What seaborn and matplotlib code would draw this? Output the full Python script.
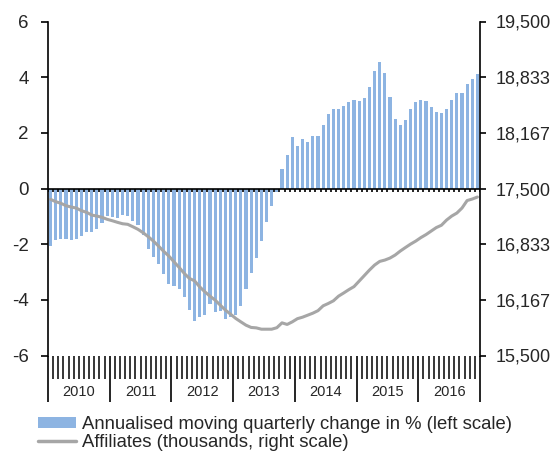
import pandas as pd
import matplotlib
matplotlib.use('Agg')
import matplotlib.pyplot as plt
from matplotlib.patches import Patch
from matplotlib.lines import Line2D
import seaborn as sns

# Data (monthly, 2010-2016)
years = ['2010', '2011', '2012', '2013', '2014', '2015', '2016']
change_pct = [
    -2.07, -1.85, -1.80, -1.80, -1.85, -1.80, -1.69, -1.55, -1.55, -1.45, -1.24, -0.98,
    -1.02, -1.05, -0.95, -1.00, -1.15, -1.30, -1.68, -2.18, -2.47, -2.72, -3.06, -3.43,
    -3.50, -3.60, -3.90, -4.35, -4.76, -4.63, -4.55, -4.15, -4.45, -4.40, -4.70, -4.63,
    -4.55, -4.22, -3.60, -3.02, -2.48, -1.88, -1.22, -0.64, -0.12, 0.71, 1.20, 1.84,
    1.53, 1.78, 1.68, 1.87, 1.87, 2.27, 2.66, 2.85, 2.85, 2.95, 3.10, 3.19,
    3.14, 3.24, 3.63, 4.22, 4.56, 4.16, 3.29, 2.51, 2.27, 2.46, 2.85, 3.10,
    3.19, 3.14, 2.94, 2.75, 2.70, 2.85, 3.19, 3.44, 3.44, 3.74, 3.93, 4.12,
]
affiliates = [
    17370, 17342, 17323, 17294, 17278, 17266, 17234, 17215, 17182, 17170, 17155, 17131,
    17114, 17095, 17078, 17071, 17042, 17011, 16970, 16922, 16870, 16810, 16747, 16691,
    16622, 16555, 16483, 16423, 16394, 16322, 16263, 16211, 16163, 16103, 16043, 15995,
    15944, 15903, 15863, 15836, 15831, 15815, 15815, 15815, 15833, 15891, 15872, 15903,
    15941, 15959, 15983, 16007, 16037, 16095, 16123, 16155, 16211, 16249, 16289, 16325,
    16391, 16457, 16523, 16583, 16627, 16643, 16667, 16703, 16751, 16793, 16834, 16870,
    16912, 16948, 16990, 17032, 17060, 17122, 17170, 17206, 17266, 17356, 17374, 17398,
]
left_ticks = [-6, -4, -2, 0, 2, 4, 6]
right_ticks = [15500, 16167, 16833, 17500, 18167, 18833, 19500]
right_labels = ['15,500', '16,167', '16,833', '17,500', '18,167', '18,833', '19,500']
bar_label = 'Annualised moving quarterly change in % (left scale)'
line_label = 'Affiliates (thousands, right scale)'

bar_color = '#8DB4E2'
line_color = '#A6A6A6'

df = pd.DataFrame({'month': range(len(change_pct)),
                   'change': change_pct,
                   'affiliates': affiliates})
n = len(df)

sns.set_theme(style='white')
plt.rcParams['font.family'] = ['Liberation Sans', 'DejaVu Sans']

fig, ax = plt.subplots(figsize=(5.55, 4.54), dpi=100)
fig.subplots_adjust(left=48 / 555, right=480 / 555, top=1 - 21.5 / 454, bottom=1 - 355.5 / 454)

# Bars on left scale
sns.barplot(data=df, x='month', y='change', color=bar_color, saturation=1,
            width=0.62, linewidth=0, ax=ax)
ax.set_ylim(-6, 6)
ax.set_yticks(left_ticks)
ax.set_yticklabels([str(t) for t in left_ticks])
ax.set_xticks([])
ax.set_xlabel('')
ax.set_ylabel('')
for s in ['top', 'bottom', 'right']:
    ax.spines[s].set_visible(False)
ax.spines['left'].set_color('black')
ax.spines['left'].set_linewidth(1.2)
ax.tick_params(axis='y', direction='out', length=5, width=1.2, color='black',
               labelsize=13.5, pad=9, left=True)

# Category axis at zero with small ticks
ax.axhline(0, color='black', lw=1.2, zorder=3)
bounds = [i - 0.5 for i in range(n + 1)]
ax.vlines(bounds, -0.11, 0, color='black', lw=1.2, zorder=3)

# Bottom month ticks and year separators
xtrans = ax.get_xaxis_transform()
month_b = [b for i, b in enumerate(bounds) if i % 12 != 0]
year_b = [b for i, b in enumerate(bounds) if i % 12 == 0]
ax.vlines(month_b, -23 / 334, 0, transform=xtrans, color='black', lw=1.1, clip_on=False)
ax.vlines(year_b, -46 / 334, 0, transform=xtrans, color='black', lw=1.2, clip_on=False)
for k, yr in enumerate(years):
    ax.text(k * 12 + 5.5, -36 / 334, yr, transform=xtrans, ha='center', va='center',
            fontsize=10.5)

# Line on right scale
ax2 = ax.twinx()
sns.lineplot(data=df, x='month', y='affiliates', color=line_color, lw=2.2,
             legend=False, ax=ax2)
ax2.set_ylim(15500, 19500)
ax2.set_yticks(right_ticks)
ax2.set_yticklabels(right_labels)
ax2.set_ylabel('')
ax2.set_xlabel('')
for s in ['top', 'bottom', 'left']:
    ax2.spines[s].set_visible(False)
ax2.spines['right'].set_color('black')
ax2.spines['right'].set_linewidth(1.2)
ax2.tick_params(axis='y', direction='out', length=4, width=1.2, color='black',
                labelsize=13, pad=7, right=True)
ax2.grid(False)
ax.grid(False)
ax.set_xlim(-0.5, n - 0.5)

handles = [Patch(facecolor=bar_color, edgecolor='none'),
           Line2D([0], [0], color=line_color, lw=2.5)]
fig.legend(handles, [bar_label, line_label], loc='upper left',
           bbox_to_anchor=(38 / 555, 1 - 416 / 454), frameon=False, fontsize=13.3,
           handlelength=2.05, handleheight=0.55, handletextpad=0.35,
           labelspacing=0.08, borderpad=0, borderaxespad=0)

fig.savefig('out.png', dpi=100)
